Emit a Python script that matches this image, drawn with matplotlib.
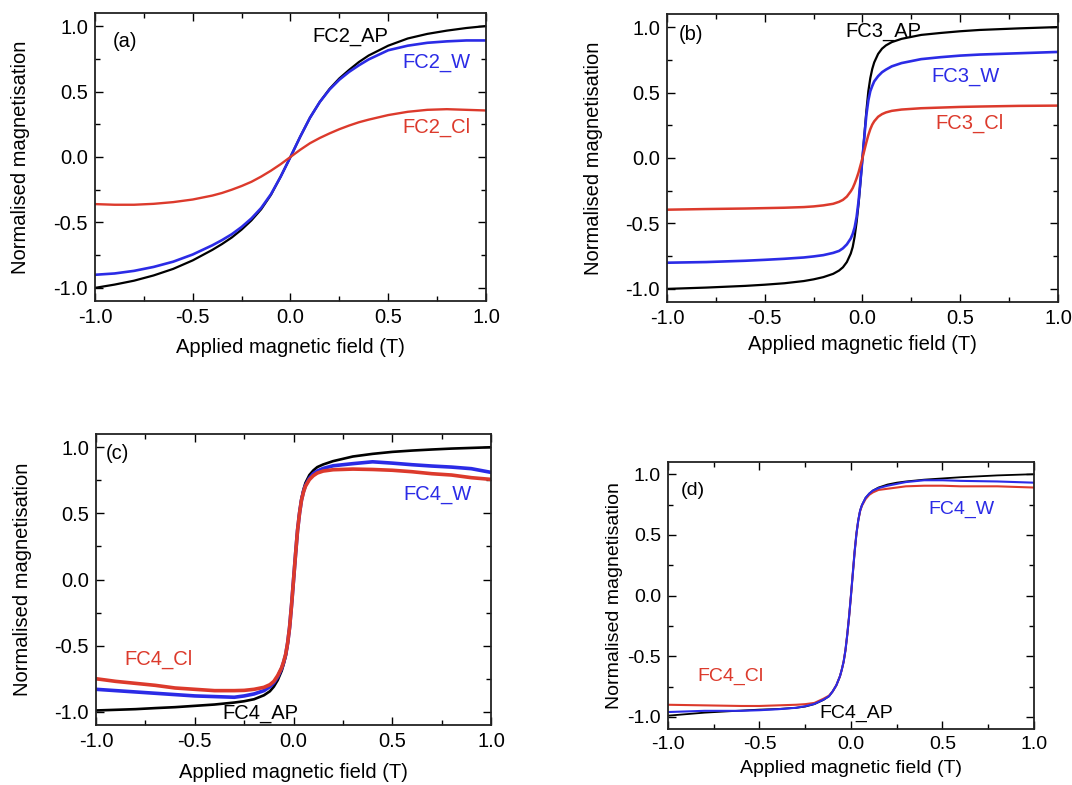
import matplotlib
matplotlib.use("Agg")
import matplotlib.pyplot as plt
from matplotlib.ticker import MultipleLocator

plt.rcParams['font.family'] = ['Liberation Sans', 'DejaVu Sans']

BLACK = '#000000'
BLUE = '#2b2be6'
RED = '#dc3a2c'

# ---- panel (a): FC2 ----
field_a = [-1.0, -0.9, -0.8, -0.7, -0.6, -0.5, -0.4, -0.35, -0.3, -0.25, -0.2, -0.15, -0.1, -0.05, 0.0,
           0.05, 0.1, 0.15, 0.2, 0.25, 0.3, 0.35, 0.4, 0.5, 0.6, 0.7, 0.8, 0.9, 1.0]
fc2_ap = [-1.0, -0.975, -0.945, -0.905, -0.855, -0.79, -0.71, -0.665, -0.615, -0.555, -0.485, -0.40, -0.29, -0.15, 0.0,
          0.155, 0.30, 0.42, 0.52, 0.60, 0.665, 0.725, 0.775, 0.85, 0.905, 0.94, 0.965, 0.985, 1.0]
fc2_w = [-0.90, -0.89, -0.87, -0.84, -0.80, -0.745, -0.675, -0.635, -0.59, -0.535, -0.47, -0.39, -0.285, -0.15, 0.0,
         0.155, 0.30, 0.42, 0.515, 0.59, 0.65, 0.70, 0.745, 0.815, 0.85, 0.872, 0.883, 0.89, 0.89]
fc2_cl = [-0.36, -0.365, -0.365, -0.358, -0.345, -0.325, -0.295, -0.275, -0.25, -0.222, -0.19, -0.15, -0.105, -0.055, 0.0,
          0.055, 0.105, 0.145, 0.18, 0.212, 0.24, 0.265, 0.285, 0.32, 0.345, 0.36, 0.365, 0.36, 0.355]

# ---- panel (b): FC3 ----
field_b = [-1.0, -0.8, -0.6, -0.5, -0.4, -0.3, -0.25, -0.2, -0.15, -0.12, -0.1, -0.08, -0.06, -0.05, -0.04, -0.03,
           -0.02, -0.01, 0.0, 0.01, 0.02, 0.03, 0.04, 0.05, 0.06, 0.08, 0.1, 0.12, 0.15, 0.2, 0.25, 0.3, 0.4, 0.5,
           0.6, 0.8, 1.0]
fc3_ap = [-1.0, -0.99, -0.977, -0.968, -0.957, -0.94, -0.927, -0.91, -0.885, -0.86, -0.835, -0.795, -0.73, -0.68,
          -0.60, -0.49, -0.35, -0.18, 0.0, 0.18, 0.36, 0.51, 0.61, 0.68, 0.73, 0.795, 0.835, 0.86, 0.885, 0.91,
          0.925, 0.94, 0.955, 0.968, 0.978, 0.99, 1.0]
fc3_w = [-0.80, -0.795, -0.785, -0.778, -0.77, -0.76, -0.752, -0.742, -0.725, -0.71, -0.69, -0.66, -0.615, -0.58,
         -0.53, -0.45, -0.33, -0.17, 0.0, 0.17, 0.33, 0.44, 0.51, 0.55, 0.585, 0.625, 0.655, 0.675, 0.70, 0.725,
         0.74, 0.755, 0.77, 0.782, 0.79, 0.80, 0.81]
fc3_cl = [-0.395, -0.39, -0.386, -0.383, -0.38, -0.375, -0.37, -0.362, -0.35, -0.335, -0.32, -0.295, -0.255, -0.23,
          -0.195, -0.155, -0.11, -0.055, 0.0, 0.06, 0.12, 0.175, 0.22, 0.255, 0.28, 0.315, 0.335, 0.348, 0.36, 0.37,
          0.375, 0.38, 0.385, 0.39, 0.393, 0.398, 0.40]

# ---- panel (c): FC4 ----
field_c = [-1.0, -0.9, -0.8, -0.7, -0.6, -0.5, -0.4, -0.3, -0.25, -0.2, -0.15, -0.12, -0.1, -0.08, -0.06, -0.05,
           -0.04, -0.03, -0.02, -0.01, 0.0, 0.01, 0.02, 0.03, 0.04, 0.05, 0.06, 0.08, 0.1, 0.12, 0.15, 0.2, 0.3,
           0.4, 0.5, 0.6, 0.7, 0.8, 0.9, 1.0]
fc4_ap_c = [-0.99, -0.985, -0.98, -0.972, -0.965, -0.955, -0.945, -0.93, -0.92, -0.905, -0.875, -0.845, -0.81,
            -0.76, -0.69, -0.64, -0.58, -0.49, -0.36, -0.19, 0.0, 0.19, 0.37, 0.51, 0.61, 0.68, 0.73, 0.79, 0.825,
            0.85, 0.87, 0.895, 0.93, 0.95, 0.965, 0.975, 0.983, 0.99, 0.995, 1.0]
fc4_w_c = [-0.83, -0.84, -0.85, -0.86, -0.87, -0.88, -0.885, -0.89, -0.88, -0.865, -0.84, -0.81, -0.78, -0.735,
           -0.67, -0.625, -0.57, -0.48, -0.36, -0.19, 0.0, 0.19, 0.37, 0.5, 0.6, 0.665, 0.71, 0.765, 0.80, 0.82,
           0.84, 0.86, 0.876, 0.89, 0.88, 0.868, 0.858, 0.85, 0.838, 0.81]
fc4_cl_c = [-0.75, -0.77, -0.785, -0.80, -0.82, -0.83, -0.84, -0.84, -0.838, -0.83, -0.815, -0.795, -0.77, -0.725,
            -0.665, -0.62, -0.565, -0.48, -0.36, -0.19, 0.0, 0.19, 0.37, 0.5, 0.6, 0.66, 0.705, 0.755, 0.785,
            0.805, 0.82, 0.83, 0.835, 0.832, 0.826, 0.815, 0.80, 0.79, 0.77, 0.757]

# ---- panel (d): FC4 (second measurement) ----
field_d = field_b
fc4_ap_d = [-0.99, -0.965, -0.948, -0.94, -0.935, -0.925, -0.915, -0.895, -0.86, -0.83, -0.79, -0.74, -0.665,
            -0.61, -0.545, -0.45, -0.32, -0.17, 0.0, 0.18, 0.36, 0.51, 0.62, 0.70, 0.745, 0.805, 0.84, 0.865, 0.89,
            0.915, 0.93, 0.94, 0.955, 0.965, 0.975, 0.99, 1.0]
fc4_w_d = [-0.96, -0.95, -0.95, -0.945, -0.937, -0.925, -0.912, -0.893, -0.858, -0.83, -0.79, -0.74, -0.665,
           -0.61, -0.545, -0.45, -0.32, -0.17, 0.0, 0.18, 0.36, 0.51, 0.62, 0.70, 0.745, 0.805, 0.84, 0.865, 0.885,
           0.905, 0.92, 0.935, 0.95, 0.95, 0.945, 0.94, 0.93]
fc4_cl_d = [-0.90, -0.905, -0.91, -0.91, -0.905, -0.90, -0.895, -0.885, -0.85, -0.825, -0.79, -0.74, -0.665,
            -0.61, -0.545, -0.45, -0.32, -0.17, 0.0, 0.18, 0.36, 0.51, 0.62, 0.695, 0.74, 0.795, 0.83, 0.85, 0.87,
            0.88, 0.89, 0.90, 0.905, 0.905, 0.90, 0.90, 0.89]

fig = plt.figure(figsize=(10.72, 7.85), dpi=100)

FS = 14.5


def style_axes(ax, fs, ylab_x, xlab_y):
    ax.set_xlim(-1.0, 1.0)
    ax.set_ylim(-1.1, 1.1)
    ax.xaxis.set_major_locator(MultipleLocator(0.5))
    ax.xaxis.set_minor_locator(MultipleLocator(0.25))
    ax.yaxis.set_major_locator(MultipleLocator(0.5))
    ax.yaxis.set_minor_locator(MultipleLocator(0.25))
    ax.xaxis.set_major_formatter(plt.FuncFormatter(lambda v, p: f"{v:.1f}"))
    ax.yaxis.set_major_formatter(plt.FuncFormatter(lambda v, p: f"{v:.1f}"))
    ax.tick_params(which='both', direction='in', top=True, right=True, labelsize=fs, pad=5)
    ax.tick_params(which='major', length=6, width=1.0)
    ax.tick_params(which='minor', length=3.5, width=1.0)
    for s in ax.spines.values():
        s.set_linewidth(1.3)
        s.set_color('#222222')
    ax.set_xlabel('Applied magnetic field (T)', fontsize=fs)
    ax.set_ylabel('Normalised magnetisation', fontsize=fs)
    ax.yaxis.set_label_coords(ylab_x, 0.5)
    ax.xaxis.set_label_coords(0.5, xlab_y)


# (a)
ax = fig.add_axes([0.0886, 0.6166, 0.3647, 0.3669])
ax.plot(field_a, fc2_ap, color=BLACK, lw=1.6)
ax.plot(field_a, fc2_w, color=BLUE, lw=1.9)
ax.plot(field_a, fc2_cl, color=RED, lw=1.7)
style_axes(ax, FS, -0.166, -0.13)
ax.text(-0.91, 0.88, '(a)', fontsize=FS, va='center')
ax.text(0.11, 0.92, 'FC2_AP', fontsize=FS, va='center', color=BLACK)
ax.text(0.57, 0.725, 'FC2_W', fontsize=FS, va='center', color=BLUE)
ax.text(0.57, 0.226, 'FC2_Cl', fontsize=FS, va='center', color=RED)

# (b)
ax = fig.add_axes([0.6222, 0.6153, 0.3647, 0.3669])
ax.plot(field_b, fc3_ap, color=BLACK, lw=1.6)
ax.plot(field_b, fc3_w, color=BLUE, lw=1.9)
ax.plot(field_b, fc3_cl, color=RED, lw=1.8)
style_axes(ax, FS, -0.164, -0.115)
ax.text(-0.94, 0.944, '(b)', fontsize=FS, va='center')
ax.text(-0.085, 0.964, 'FC3_AP', fontsize=FS, va='center', color=BLACK)
ax.text(0.354, 0.62, 'FC3_W', fontsize=FS, va='center', color=BLUE)
ax.text(0.372, 0.266, 'FC3_Cl', fontsize=FS, va='center', color=RED)

# (c)
ax = fig.add_axes([0.0896, 0.0764, 0.3685, 0.3707])
ax.plot(field_c, fc4_ap_c, color=BLACK, lw=1.9)
ax.plot(field_c, fc4_w_c, color=BLUE, lw=2.6)
ax.plot(field_c, fc4_cl_c, color=RED, lw=2.6)
style_axes(ax, FS, -0.162, -0.13)
ax.text(-0.95, 0.952, '(c)', fontsize=FS, va='center')
ax.text(0.556, 0.644, 'FC4_W', fontsize=FS, va='center', color=BLUE)
ax.text(-0.858, -0.60, 'FC4_Cl', fontsize=FS, va='center', color=RED)
ax.text(-0.359, -1.01, 'FC4_AP', fontsize=FS, va='center', color=BLACK)

# (d)
FSD = 14
ax = fig.add_axes([0.6231, 0.0713, 0.3414, 0.3401])
ax.plot(field_d, fc4_ap_d, color=BLACK, lw=1.3)
ax.plot(field_d, fc4_cl_d, color=RED, lw=1.5)
ax.plot(field_d, fc4_w_d, color=BLUE, lw=1.5)
style_axes(ax, FSD, -0.123, -0.115)
ax.text(-0.929, 0.868, '(d)', fontsize=FSD, va='center')
ax.text(0.423, 0.709, 'FC4_W', fontsize=FSD, va='center', color=BLUE)
ax.text(-0.842, -0.668, 'FC4_Cl', fontsize=FSD, va='center', color=RED)
ax.text(-0.172, -0.974, 'FC4_AP', fontsize=FSD, va='center', color=BLACK)

fig.savefig('out.png', dpi=100)
